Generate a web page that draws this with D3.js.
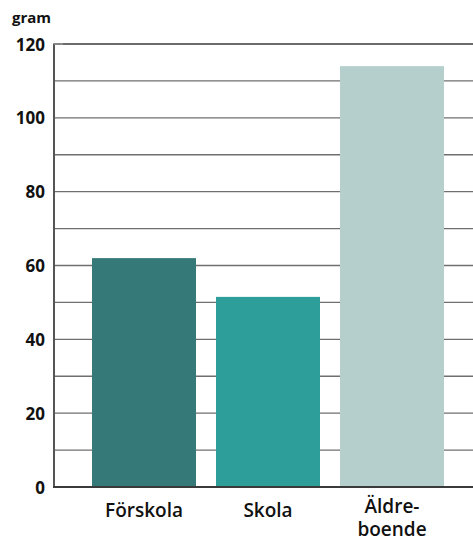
<html>
<head>
	<meta charset="utf-8">
	<style>
		body { margin:0; padding:0; background:#fff; font-family: "Open Sans", Lato, sans-serif; }
		.grid line { stroke:#6f6f6f; stroke-width:1.4; }
		.tick text { fill:#111; }
	</style>
</head>
<body>
	<svg width="473" height="541"></svg>
	<script src="https://d3js.org/d3.v7.min.js"></script>
	<script>
		var categories = [["Förskola"], ["Skola"], ["Äldre-", "boende"]];
		var values = [62, 51.5, 114];
		var colors = ["#357a78", "#2d9e9a", "#b4cfcc"];
		var yTicks = [0, 20, 40, 60, 80, 100, 120];
		var gridTicks = [10, 20, 30, 40, 50, 60, 70, 80, 90, 100, 110, 120];

		var svg = d3.select("svg");
		var plotLeft = 54, plotRight = 473, plotTop = 44, plotBottom = 487;

		var y = d3.scaleLinear().domain([0, 120]).range([plotBottom, plotTop]);
		var x = d3.scaleBand().domain(d3.range(values.length)).range([82, 454])
			.paddingInner(20/124).paddingOuter(10/124);

		// gridlines
		svg.append("g").attr("class", "grid")
			.selectAll("line").data(gridTicks).enter().append("line")
			.attr("x1", plotLeft).attr("x2", plotRight)
			.attr("y1", function(d){ return y(d); })
			.attr("y2", function(d){ return y(d); })
			.style("stroke", function(d){ return d == 120 ? "#3a3a3a" : null; });

		// bars
		svg.selectAll("rect.bar").data(values).enter().append("rect")
			.attr("class", "bar")
			.attr("x", function(d, i){ return x(i); })
			.attr("width", x.bandwidth())
			.attr("y", function(d){ return y(d); })
			.attr("height", function(d){ return plotBottom - y(d); })
			.style("fill", function(d, i){ return colors[i]; });

		// y axis
		var axis = d3.axisLeft(y).tickValues(yTicks).tickSize(0).tickPadding(9);
		var g = svg.append("g").attr("transform", "translate(" + plotLeft + ",0)").call(axis);
		g.select(".domain").remove();
		g.selectAll("text").style("font-size", "17px").style("font-weight", "700")
			.style("font-family", "'Open Sans', sans-serif").attr("dy", "0.36em");
		svg.append("line").attr("x1", plotLeft).attr("x2", plotLeft).attr("y1", plotTop - 0.5).attr("y2", plotBottom)
			.style("stroke", "#555").style("stroke-width", 2);
		svg.append("line").attr("x1", plotLeft).attr("x2", plotLeft + 9).attr("y1", plotTop).attr("y2", plotTop)
			.style("stroke", "#888").style("stroke-width", 2);

		// baseline
		svg.append("line").attr("x1", plotLeft - 1).attr("x2", plotRight).attr("y1", plotBottom).attr("y2", plotBottom)
			.style("stroke", "#3a3a3a").style("stroke-width", 2);

		// unit label
		svg.append("text").attr("x", 12).attr("y", 23).text("gram")
			.style("font-size", "15px").style("font-weight", "700").style("fill", "#111");

		// category labels
		svg.selectAll("text.cat").data(categories).enter().append("text")
			.attr("class", "cat")
			.attr("text-anchor", "middle")
			.attr("x", function(d, i){ return x(i) + x.bandwidth() / 2; })
			.attr("y", function(d){ return d.length > 1 ? 513 : 517; })
			.style("font-size", "19px").style("font-weight", "600").style("fill", "#111")
			.each(function(d){
				var t = d3.select(this);
				d.forEach(function(line, j){
					t.append("tspan").attr("x", t.attr("x")).attr("dy", j == 0 ? 0 : 23).text(line);
				});
			});
	</script>
</body>
</html>
